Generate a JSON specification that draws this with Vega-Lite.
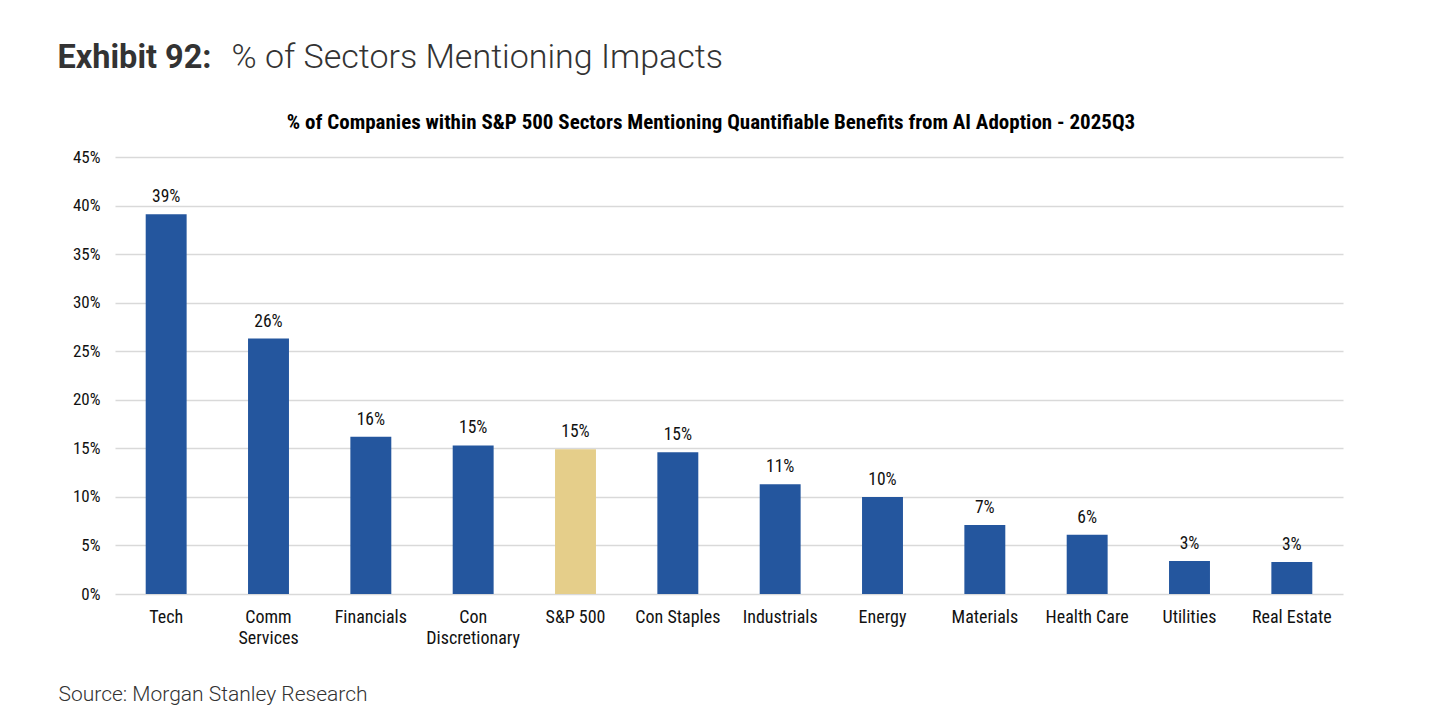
{
  "$schema": "https://vega.github.io/schema/vega-lite/v6.json",
  "autosize": {"type": "none"},
  "width": 1228,
  "height": 437,
  "padding": {"left": 115, "top": 157, "right": 97, "bottom": 131},
  "background": "white",
  "config": {"view": {"stroke": null}},
  "title": {
    "text": "% of Companies within S&P 500 Sectors Mentioning Quantifiable Benefits from AI Adoption - 2025Q3",
    "anchor": "middle",
    "frame": "group",
    "dx": -18,
    "dy": 119,
    "offset": 26,
    "font": "Roboto Condensed, Liberation Sans Narrow, DejaVu Sans Condensed, Roboto",
    "fontSize": 21,
    "fontWeight": "bold",
    "color": "#000000"
  },
  "data": {
    "values": [
      {"sector": "Tech", "pct": 0.391, "type": "Sector"},
      {"sector": "Comm Services", "pct": 0.263, "type": "Sector"},
      {"sector": "Financials", "pct": 0.162, "type": "Sector"},
      {"sector": "Con Discretionary", "pct": 0.153, "type": "Sector"},
      {"sector": "S&P 500", "pct": 0.149, "type": "Index"},
      {"sector": "Con Staples", "pct": 0.146, "type": "Sector"},
      {"sector": "Industrials", "pct": 0.113, "type": "Sector"},
      {"sector": "Energy", "pct": 0.100, "type": "Sector"},
      {"sector": "Materials", "pct": 0.071, "type": "Sector"},
      {"sector": "Health Care", "pct": 0.061, "type": "Sector"},
      {"sector": "Utilities", "pct": 0.034, "type": "Sector"},
      {"sector": "Real Estate", "pct": 0.033, "type": "Sector"}
    ]
  },
  "encoding": {
    "x": {
      "field": "sector",
      "type": "nominal",
      "sort": null,
      "scale": {"paddingInner": 0.6, "paddingOuter": 0.3},
      "axis": {
        "labelAngle": 0,
        "labelFont": "Roboto Condensed, Liberation Sans Narrow, DejaVu Sans Condensed, Roboto",
        "labelFontSize": 18,
        "labelColor": "#111111",
        "labelPadding": 14,
        "labelLineHeight": 21,
        "labelExpr": "datum.value == 'Comm Services' ? ['Comm', 'Services'] : datum.value == 'Con Discretionary' ? ['Con', 'Discretionary'] : datum.label",
        "ticks": false,
        "domain": false,
        "title": "Source: Morgan Stanley Research",
        "titleFont": "Roboto",
        "titleFontWeight": 300,
        "titleFontSize": 21,
        "titleColor": "#333333",
        "titleAlign": "left",
        "titleBaseline": "alphabetic",
        "titleX": -57,
        "titleY": 106
      }
    }
  },
  "layer": [
    {
      "mark": {"type": "bar"},
      "encoding": {
        "y": {
          "field": "pct",
          "type": "quantitative",
          "scale": {"domain": [0, 0.45]},
          "axis": {
            "values": [0, 0.05, 0.1, 0.15, 0.2, 0.25, 0.3, 0.35, 0.4, 0.45],
            "format": ".0%",
            "labelFont": "Roboto Condensed, Liberation Sans Narrow, DejaVu Sans Condensed, Roboto",
            "labelFontSize": 17,
            "labelColor": "#111111",
            "labelPadding": 15,
            "ticks": false,
            "domain": false,
            "grid": true,
            "gridColor": "#d9d9d9",
            "gridWidth": 1.5,
            "title": "Exhibit 92:",
            "titleFont": "Roboto",
            "titleFontWeight": "bold",
            "titleFontSize": 32.5,
            "titleColor": "#333333",
            "titleAngle": 0,
            "titleAlign": "left",
            "titleBaseline": "alphabetic",
            "titleX": -58,
            "titleY": -90
          }
        },
        "color": {
          "field": "type",
          "type": "nominal",
          "scale": {"domain": ["Sector", "Index"], "range": ["#24569E", "#E5CE8A"]},
          "legend": null
        }
      }
    },
    {
      "mark": {
        "type": "text",
        "baseline": "alphabetic",
        "dy": -12,
        "font": "Roboto Condensed, Liberation Sans Narrow, DejaVu Sans Condensed, Roboto",
        "fontSize": 17.5,
        "color": "#111111"
      },
      "encoding": {
        "y": {
          "field": "pct",
          "type": "quantitative",
          "axis": {
            "orient": "right",
            "labels": false,
            "ticks": false,
            "domain": false,
            "grid": false,
            "title": "% of Sectors Mentioning Impacts",
            "titleFont": "Roboto",
            "titleFontWeight": 300,
            "titleFontSize": 34,
            "titleColor": "#333333",
            "titleAngle": 0,
            "titleAlign": "left",
            "titleBaseline": "alphabetic",
            "titleX": -1112,
            "titleY": -90
          }
        },
        "text": {"field": "pct", "type": "quantitative", "format": ".0%"}
      }
    }
  ],
  "resolve": {"axis": {"y": "independent"}}
}
